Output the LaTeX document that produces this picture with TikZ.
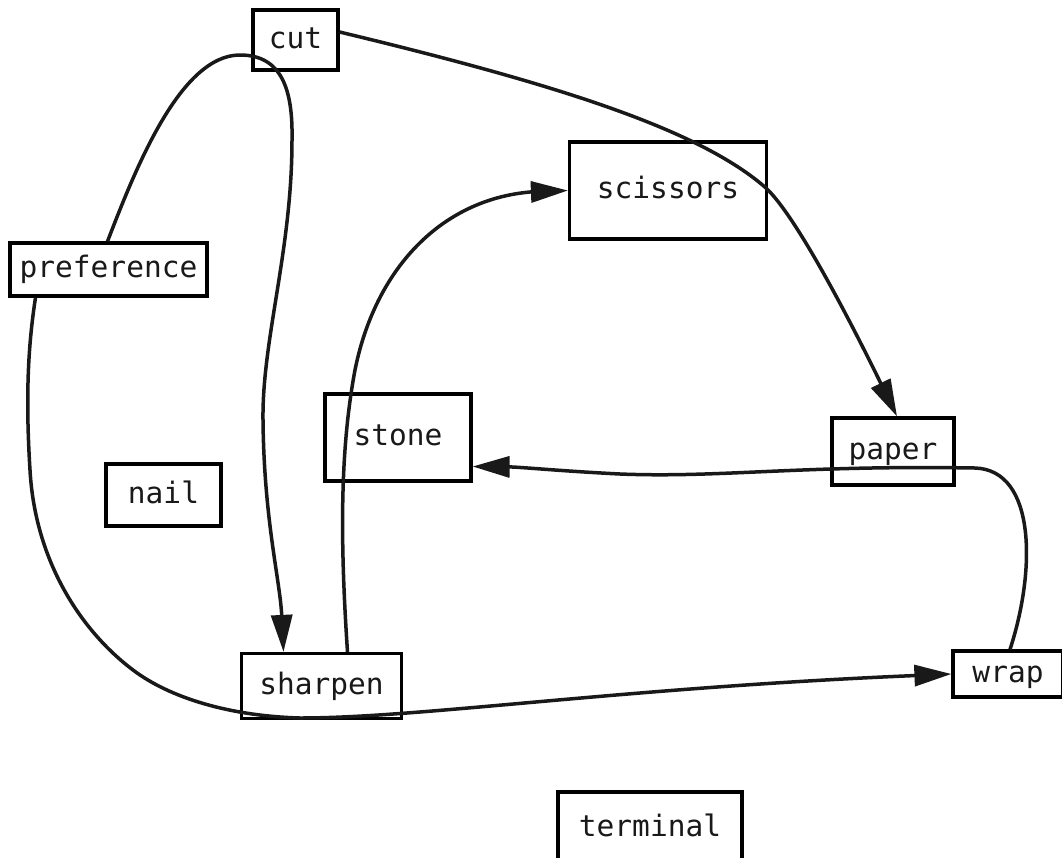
\documentclass[tikz,border=0pt]{standalone}
\usepackage{fontspec}
\setmonofont{DejaVu Sans Mono}
\usetikzlibrary{arrows.meta}

\tikzset{
  box/.style={draw, line width=3.2pt, inner sep=0pt, anchor=center,
    text height=22pt, text depth=6pt,
    font=\ttfamily\fontsize{29.5}{32}\selectfont, text=black!90},
  link/.style={line width=3.5pt, black!90},
  arr/.style={link, -{Triangle[length=37pt,width=21pt]}},
}

\begin{document}
\begin{tikzpicture}[x=1pt, y=-1pt]
  \useasboundingbox (0,0) rectangle (1062,857);
  \fill[white] (0,0) rectangle (1062,857);

  % vertices
  \node[box, minimum width=85pt,  minimum height=60pt] (cut)        at (295.5,40)  {cut};
  \node[box, minimum width=197pt, minimum height=53pt] (preference) at (108.5,269.5) {preference};
  \node[box, minimum width=197pt, minimum height=97pt] (scissors)   at (668,190.5) {scissors};
  \node[box, minimum width=146pt, minimum height=87pt] (stone)      at (398,437.5) {stone};
  \node[box, minimum width=122pt, minimum height=67pt] (paper)      at (893,451.5) {paper};
  \node[box, minimum width=115pt, minimum height=62pt] (nail)       at (163.5,495) {nail};
  \node[box, minimum width=160pt, minimum height=65pt] (sharpen)    at (321.5,686) {sharpen};
  \node[box, minimum width=110pt, minimum height=46pt] (wrap)       at (1008,674)  {wrap};
  \node[box, minimum width=184pt, minimum height=72pt] (terminal)   at (650,828)   {terminal};

  % cut -> paper
  \draw[arr] ([yshift=8pt]cut.east)
      .. controls (560,85) and (700,130) .. (766,188)
      .. controls (800,220) and (862,345) .. ([xshift=4pt]paper.north);

  % preference -> sharpen, looping over the top
  \draw[arr] ([xshift=-1pt]preference.north)
      .. controls (135,170) and (180,55) .. (240,55)
      .. controls (282,55) and (293,90) .. (292,140)
      .. controls (292,250) and (262,340) .. (263,420)
      .. controls (264,520) and (280,580) .. ([xshift=-38pt]sharpen.north);

  % preference -> wrap, round the bottom
  \draw[arr] ([xshift=-73pt]preference.south)
      .. controls (29,340) and (25,390) .. (30,470)
      .. controls (35,560) and (80,630) .. (133,670)
      .. controls (170,698) and (230,716) .. (300,718)
      .. controls (420,718) and (620,688) .. (wrap.west);

  % wrap -> stone, through paper
  \draw[arr] ([xshift=2pt]wrap.north)
      .. controls (1036,570) and (1036,470) .. (975,468)
      .. controls (800,465) and (720,478) .. (620,474)
      .. controls (560,471) and (520,467) .. ([yshift=-29pt]stone.east);

  % sharpen -> scissors
  \draw[arr] ([xshift=26pt]sharpen.north)
      .. controls (340,540) and (340,450) .. (355,370)
      .. controls (375,270) and (440,200) .. (530,192)
      -- (scissors.west);
\end{tikzpicture}
\end{document}
